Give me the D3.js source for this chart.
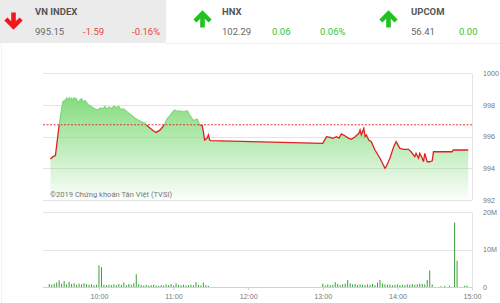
<!DOCTYPE html>
<html>
<head>
<meta charset="utf-8">
<script src="https://cdn.jsdelivr.net/npm/d3@7"></script>
<style>
  body { margin: 0; background: #fff; }
  svg { display: block; font-family: Roboto, "Noto Sans", sans-serif; }
</style>
</head>
<body>
<svg id="chart"></svg>
<script>
var width = 500,
    height = 303;

// index boxes in the header
var indexNames = ["VN INDEX", "HNX", "UPCOM"],
    indexValues = ["995.15", "102.29", "56.41"],
    indexChanges = ["-1.59", "0.06", "0.00"],
    indexPercents = ["-0.16%", "0.06%", ""],
    indexUp = [false, true, true];

var refPrice = 996.74;

// VN-Index intraday, [time, value]
var priceData = [
  ["9:21", 994.58], ["9:23", 994.73], ["9:25", 994.8], ["9:28", 996.74], ["9:30", 997.78],
  ["9:31", 998.2], ["9:33", 998.3], ["9:34", 998.42], ["9:35", 998.3], ["9:36", 998.44],
  ["9:37", 998.35], ["9:38", 998.42], ["9:39", 998.3], ["9:40", 998.44], ["9:42", 998.36],
  ["9:43", 998.1], ["9:44", 998.25], ["9:46", 998.38], ["9:47", 998.2], ["9:49", 998.26],
  ["9:51", 998.02], ["9:53", 997.94], ["9:55", 997.82], ["9:57", 997.73], ["9:59", 997.67],
  ["10:01", 997.8], ["10:03", 997.74], ["10:05", 997.9], ["10:06", 997.7], ["10:08", 997.86],
  ["10:10", 997.76], ["10:12", 997.9], ["10:14", 997.82], ["10:16", 997.9], ["10:17", 997.72],
  ["10:20", 997.73], ["10:22", 997.6], ["10:24", 997.46], ["10:27", 997.3], ["10:29", 997.15],
  ["10:33", 996.98], ["10:37", 996.83], ["10:40", 996.6], ["10:44", 996.35], ["10:46", 996.26],
  ["10:49", 996.4], ["10:52", 996.68], ["10:55", 997.15], ["10:57", 997.3], ["10:59", 997.52],
  ["11:01", 997.67], ["11:03", 997.58], ["11:05", 997.62], ["11:08", 997.56], ["11:11", 997.62],
  ["11:13", 997.35], ["11:16", 997.0], ["11:19", 997.1],
  ["11:21", 996.74], ["11:23", 996.7], ["11:24", 996.3], ["11:25", 995.78], ["11:27", 995.9],
  ["11:28", 996.1], ["11:29", 995.78], ["11:30", 995.74],
  ["13:00", 995.57], ["13:03", 995.99], ["13:06", 995.95], ["13:08", 995.88], ["13:11", 995.99],
  ["13:13", 995.9], ["13:15", 996.16], ["13:18", 996.03], ["13:21", 995.88], ["13:23", 995.82],
  ["13:26", 995.99], ["13:29", 996.2], ["13:30", 996.41], ["13:31", 996.1], ["13:33", 996.51],
  ["13:34", 995.99], ["13:35", 996.1], ["13:37", 995.78], ["13:39", 995.67], ["13:42", 995.15],
  ["13:46", 994.63], ["13:50", 994.0], ["13:51", 994.1], ["13:54", 994.63], ["13:57", 995.36],
  ["13:59", 995.67], ["14:02", 995.25], ["14:05", 995.19], ["14:09", 995.19], ["14:11", 995.04],
  ["14:14", 994.73], ["14:15", 994.94], ["14:17", 994.63], ["14:18", 994.94], ["14:20", 994.63],
  ["14:21", 994.41], ["14:22", 994.94], ["14:24", 994.41], ["14:26", 994.41], ["14:28", 994.47],
  ["14:29", 995.04], ["14:44", 995.04], ["14:45", 995.15], ["14:57", 995.15]
];

// volume (millions), morning bars every 2 min from 9:20
var amVolume = [0.8, 0.6, 0.9, 1.2, 1.8, 0.9, 1.6, 0.7, 1.4, 0.8, 1.0, 0.6, 0.9, 0.7, 1.0, 0.8,
  0.6, 0.7, 0.5, 0.6, 5.8, 5.3, 0.6, 0.5, 0.6, 0.5, 0.7, 0.5, 0.8, 0.6, 1.2, 0.5, 0.8, 0.6,
  1.0, 3.4, 0.8, 0.5, 0.4, 0.6, 0.4, 0.5, 0.6, 0.4, 0.3, 0.5, 0.4, 0.7, 0.5, 0.8, 0.4, 1.0,
  0.6, 0.5, 0.6, 0.4, 0.5, 0.6, 0.5, 1.3, 0.6, 0.4, 1.2, 0.5, 0.3];
// afternoon bars every 2 min from 13:00
var pmVolume = [0.9, 0.4, 0.7, 0.5, 0.6, 1.3, 0.8, 0.5, 0.7, 0.9, 1.9, 1.0, 0.7, 0.8, 0.6, 0.7,
  0.6, 0.5, 0.7, 0.6, 0.8, 0.5, 1.2, 1.9, 0.9, 0.7, 0.6, 0.7, 0.5, 0.6, 0.7, 0.5, 0.6, 0.5,
  0.7, 0.6, 0.8, 0.6, 0.7, 0.9, 0.8, 0.7, 1.9, 4.4, 0.7];
// closing session bars
var closeVolume = [["14:35", 0.2], ["14:38", 0.3], ["14:42", 0.3], ["14:46", 17.2],
  ["14:48", 7.0], ["14:54", 0.3], ["14:56", 0.4]];

var priceTicks = [1000, 998, 996, 994, 992],
    volumeTicks = [20, 10, 0],
    timeTicks = ["10:00", "11:00", "12:00", "13:00", "14:00", "15:00"];

var parseTime = d3.timeParse("%H:%M");

function init() {
  var svg = d3.select("#chart").attr("width", width).attr("height", height);
  drawHeader(svg);
  drawChart(svg);
}

function arrow(g, cx, up, color) {
  var s = up ? -1 : 1, top = 20 - s * 7.5;
  g.append("path")
    .attr("d", "M" + cx + "," + top + "V" + (20 + s * 6.5))
    .attr("stroke", color).attr("stroke-width", 4.6).attr("fill", "none");
  g.append("path")
    .attr("d", "M" + (cx - 7.6) + "," + (20 - s * 1) + "L" + cx + "," + (20 + s * 6.6) + "L" + (cx + 7.6) + "," + (20 - s * 1))
    .attr("stroke", color).attr("stroke-width", 4.4).attr("fill", "none")
    .attr("stroke-linejoin", "miter");
}

function drawHeader(svg) {
  svg.append("rect").attr("x", 0).attr("y", 0).attr("width", 166).attr("height", 43).attr("fill", "#ebebeb");
  svg.append("line").attr("x1", 166).attr("x2", width).attr("y1", 43.5).attr("y2", 43.5)
    .attr("stroke", "#f0f0f0");
  svg.append("line").attr("x1", 1.5).attr("x2", 1.5).attr("y1", 43).attr("y2", height)
    .attr("stroke", "#f3f3f3");

  var boxX = [35, 222, 411],
      arrowX = [13.5, 202.5, 388.5],
      changeX = [[83, 132], [272, 320], [459, 0]];

  indexNames.forEach(function(name, i) {
    var g = svg.append("g");
    var c = indexUp[i] ? "#35c335" : "#e8463d";
    arrow(g, arrowX[i], indexUp[i], indexUp[i] ? "#1fc21f" : "#f01818");
    g.append("text").attr("x", boxX[i]).attr("y", 15)
      .attr("font-size", 9.5).attr("font-weight", "bold").attr("fill", "#555").text(name);
    g.append("text").attr("x", boxX[i]).attr("y", 35)
      .attr("font-size", 9.5).attr("fill", "#666").text(indexValues[i]);
    g.append("text").attr("x", changeX[i][0]).attr("y", 35)
      .attr("font-size", 9.5).attr("fill", c).text(indexChanges[i]);
    if (indexPercents[i]) {
      g.append("text").attr("x", changeX[i][1]).attr("y", 35)
        .attr("font-size", 9.5).attr("fill", c).text(indexPercents[i]);
    }
  });
}

function drawChart(svg) {
  var x = d3.scaleTime().domain([parseTime("9:15"), parseTime("15:00")]).range([43, 472]);
  var y = d3.scaleLinear().domain([992, 1000]).range([200, 73]);
  var yv = d3.scaleLinear().domain([0, 20]).range([287, 212]);

  var prices = priceData.map(function(d) { return { t: parseTime(d[0]), v: d[1] }; });

  // price grid
  svg.append("g").selectAll("line").data(priceTicks).enter().append("line")
    .attr("x1", 43).attr("x2", 472)
    .attr("y1", function(d) { return Math.round(y(d)) + 0.5; })
    .attr("y2", function(d) { return Math.round(y(d)) + 0.5; })
    .attr("stroke", "#e4e4e4");
  svg.append("g").attr("transform", "translate(472,0)")
    .call(d3.axisRight(y).tickValues(priceTicks).tickSize(0).tickPadding(11).tickFormat(d3.format("d")))
    .call(function(g) {
      g.select(".domain").attr("stroke", "#e4e4e4");
      g.selectAll("text").attr("font-size", 7.2).attr("fill", "#777").attr("font-family", null);
    });

  // area gradient
  var defs = svg.append("defs");
  var grad = defs.append("linearGradient").attr("id", "areaGrad")
    .attr("gradientUnits", "userSpaceOnUse").attr("x1", 0).attr("x2", 0)
    .attr("y1", y(998.4)).attr("y2", y(992));
  grad.append("stop").attr("offset", 0).attr("stop-color", "#86dc80");
  grad.append("stop").attr("offset", 1).attr("stop-color", "#86dc80").attr("stop-opacity", 0.03);

  var yRef = y(refPrice);
  defs.append("clipPath").attr("id", "clipUp").append("rect")
    .attr("x", 0).attr("y", 0).attr("width", width).attr("height", yRef);
  defs.append("clipPath").attr("id", "clipDown").append("rect")
    .attr("x", 0).attr("y", yRef).attr("width", width).attr("height", height - yRef);

  var area = d3.area().x(function(d) { return x(d.t); }).y0(y(992)).y1(function(d) { return y(d.v); });
  var line = d3.line().x(function(d) { return x(d.t); }).y(function(d) { return y(d.v); });

  svg.append("path").datum(prices).attr("d", area).attr("fill", "url(#areaGrad)");

  svg.append("text").attr("x", 50).attr("y", 197)
    .attr("font-size", 7.6).attr("fill", "#777")
    .text("©2019 Chứng khoán Tân Việt (TVSI)");

  svg.append("line").attr("x1", 43).attr("x2", 472).attr("y1", yRef).attr("y2", yRef)
    .attr("stroke", "#e02424").attr("stroke-width", 0.9).attr("stroke-dasharray", "2,1.5");

  svg.append("path").datum(prices).attr("d", line).attr("clip-path", "url(#clipUp)")
    .attr("fill", "none").attr("stroke", "#7fd87a").attr("stroke-width", 1.2);
  svg.append("path").datum(prices).attr("d", line).attr("clip-path", "url(#clipDown)")
    .attr("fill", "none").attr("stroke", "#e02020").attr("stroke-width", 1.3);

  // volume panel
  var vols = [];
  var am0 = parseTime("9:20"), pm0 = parseTime("13:00");
  amVolume.forEach(function(v, i) { vols.push({ t: d3.timeMinute.offset(am0, i * 2), v: v }); });
  pmVolume.forEach(function(v, i) { vols.push({ t: d3.timeMinute.offset(pm0, i * 2), v: v }); });
  closeVolume.forEach(function(d) { vols.push({ t: parseTime(d[0]), v: d[1] }); });

  svg.append("g").selectAll("line").data(volumeTicks).enter().append("line")
    .attr("x1", 43).attr("x2", 472)
    .attr("y1", function(d) { return Math.round(yv(d)) + 0.5; })
    .attr("y2", function(d) { return Math.round(yv(d)) + 0.5; })
    .attr("stroke", function(d) { return d === 0 ? "#c9d3dc" : "#e4e4e4"; });
  svg.append("g").attr("transform", "translate(472,0)")
    .call(d3.axisRight(yv).tickValues(volumeTicks).tickSize(0).tickPadding(11)
      .tickFormat(function(d) { return d === 0 ? "0" : d + "M"; }))
    .call(function(g) {
      g.select(".domain").attr("stroke", "#e4e4e4");
      g.selectAll("text").attr("font-size", 7.2).attr("fill", "#777").attr("font-family", null);
    });

  svg.append("g").selectAll("rect").data(vols).enter().append("rect")
    .attr("x", function(d) { return x(d.t) - 0.5; })
    .attr("width", 1)
    .attr("y", function(d) { return yv(d.v); })
    .attr("height", function(d) { return yv(0) - yv(d.v); })
    .attr("fill", "#3d9e3d");

  svg.append("g").attr("transform", "translate(0,287)")
    .call(d3.axisBottom(x).tickValues(timeTicks.map(parseTime)).tickSize(3).tickPadding(4)
      .tickFormat(d3.timeFormat("%H:%M")))
    .call(function(g) {
      g.select(".domain").remove();
      g.selectAll("line").attr("stroke", "#c9d3dc");
      g.selectAll("text").attr("font-size", 7.2).attr("fill", "#777").attr("font-family", null);
    });
}

init();
</script>
</body>
</html>
